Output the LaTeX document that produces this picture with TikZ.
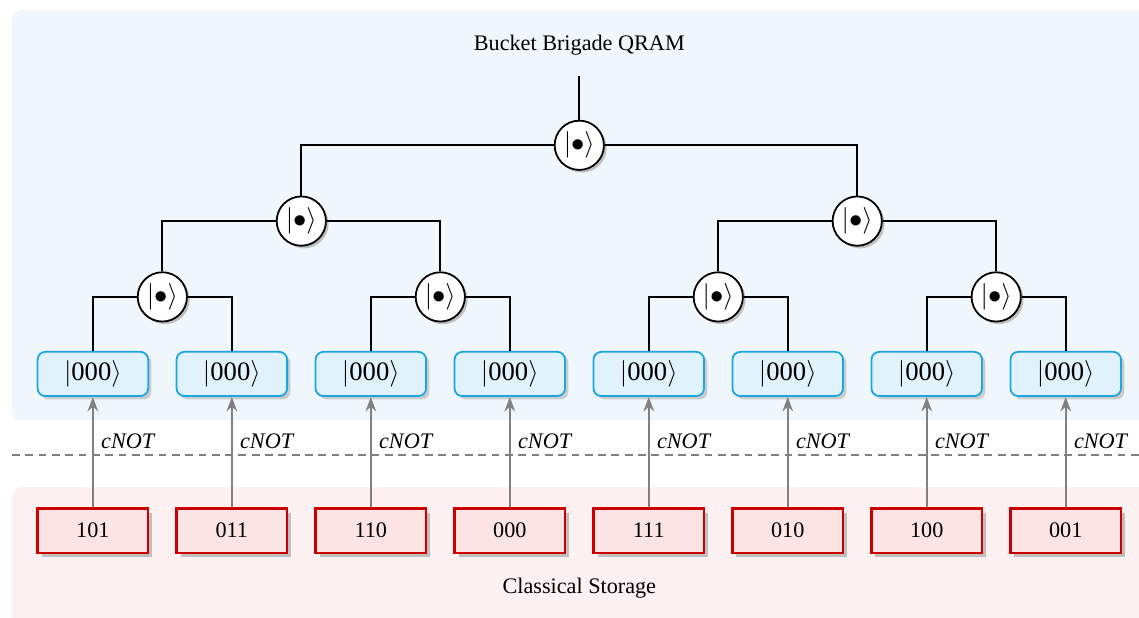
\documentclass[tikz,border=0pt]{standalone}
\usepackage{fontspec}
\setmainfont{Liberation Serif}
\usetikzlibrary{shadows,arrows.meta}

\definecolor{fondQ}{RGB}{239,247,253}
\definecolor{fondC}{RGB}{253,240,240}
\definecolor{feuilleF}{RGB}{224,242,251}
\definecolor{feuilleB}{RGB}{27,166,224}
\definecolor{memF}{RGB}{253,228,228}
\definecolor{memB}{RGB}{204,0,0}

\begin{document}
\begin{tikzpicture}[
    qbit/.style={circle, draw, thick, fill=white, minimum size=0.78cm, inner sep=0pt, font=\large,
      drop shadow={shadow xshift=1.2pt, shadow yshift=-1.2pt, fill=black!25, opacity=1}},
    feuille/.style={rectangle, rounded corners=3.5pt, draw=feuilleB, thick, fill=feuilleF,
      minimum width=1.75cm, minimum height=0.7cm, inner sep=0pt, font=\large,
      drop shadow={shadow xshift=1.5pt, shadow yshift=-1.5pt, fill=black!20, opacity=1}},
    mem/.style={rectangle, draw=memB, line width=1pt, fill=memF,
      minimum width=1.75cm, minimum height=0.7cm, inner sep=0pt,
      drop shadow={shadow xshift=1.8pt, shadow yshift=-1.8pt, fill=black!25, opacity=1}},
    lien/.style={thick},
    cnot/.style={gray, thick, -{Stealth[length=6.5pt, width=4.8pt]}},
  ]

    \def\xo{1.47}
    \def\pas{2.2}
    \def\yf{-5.92}
    \def\ym{-8.40}

  \useasboundingbox (0,0) rectangle (18.03,-9.77);
  \clip (0,0) rectangle (18.03,-9.77);

  % fonds
  \fill[fondQ, rounded corners=4.5pt] (0.19,-0.16) rectangle (18.6,-6.66);
  \fill[fondC, rounded corners=4.5pt] (0.19,-7.71) rectangle (18.6,-10.2);
  \coordinate (dg) at (0.19,-7.20);
  \coordinate (dd) at (18.03,-7.20);
  \draw[gray, thick, dash pattern=on 3.5pt off 2.5pt] (dg) -- (dd);

  \node (titre) at (9.17,-0.71) {Bucket Brigade QRAM};
  \node (stock) at (9.17,-9.31) {Classical Storage};

  % feuilles et memoire classique
  \foreach \i/\val in {0/101,1/011,2/110,3/000,4/111,5/010,6/100,7/001} {
    \node[feuille] (l\i) at ({\xo+\pas*\i},\yf) {$|$000$\rangle$};
    \node[mem] (s\i) at ({\xo+\pas*\i},\ym) {\val};
    \draw[cnot] (s\i) -- node[pos=0.6, right, text=black, font=\itshape] {cNOT} (l\i);
  }

  % routeurs
  \foreach \j in {0,...,3} {
    \node[qbit] (b\j) at ({\xo+\pas*(2*\j+0.5)},-4.70) {$|\bullet\rangle$};
    \pgfmathtruncatemacro\g{2*\j}
    \pgfmathtruncatemacro\d{2*\j+1}
    \draw[lien] (l\g) |- (b\j) -| (l\d);
  }
  \foreach \k in {0,1} {
    \node[qbit] (a\k) at ({\xo+\pas*(4*\k+1.5)},-3.50) {$|\bullet\rangle$};
    \pgfmathtruncatemacro\g{2*\k}
    \pgfmathtruncatemacro\d{2*\k+1}
    \draw[lien] (b\g) |- (a\k) -| (b\d);
  }
  \node[qbit] (r) at ({\xo+\pas*3.5},-2.30) {$|\bullet\rangle$};
  \draw[lien] (a0) |- (r) -| (a1);
  \coordinate (entree) at ({\xo+\pas*3.5},-1.20);
  \draw[lien] (r) -- (entree);
  \end{tikzpicture}
\end{document}
